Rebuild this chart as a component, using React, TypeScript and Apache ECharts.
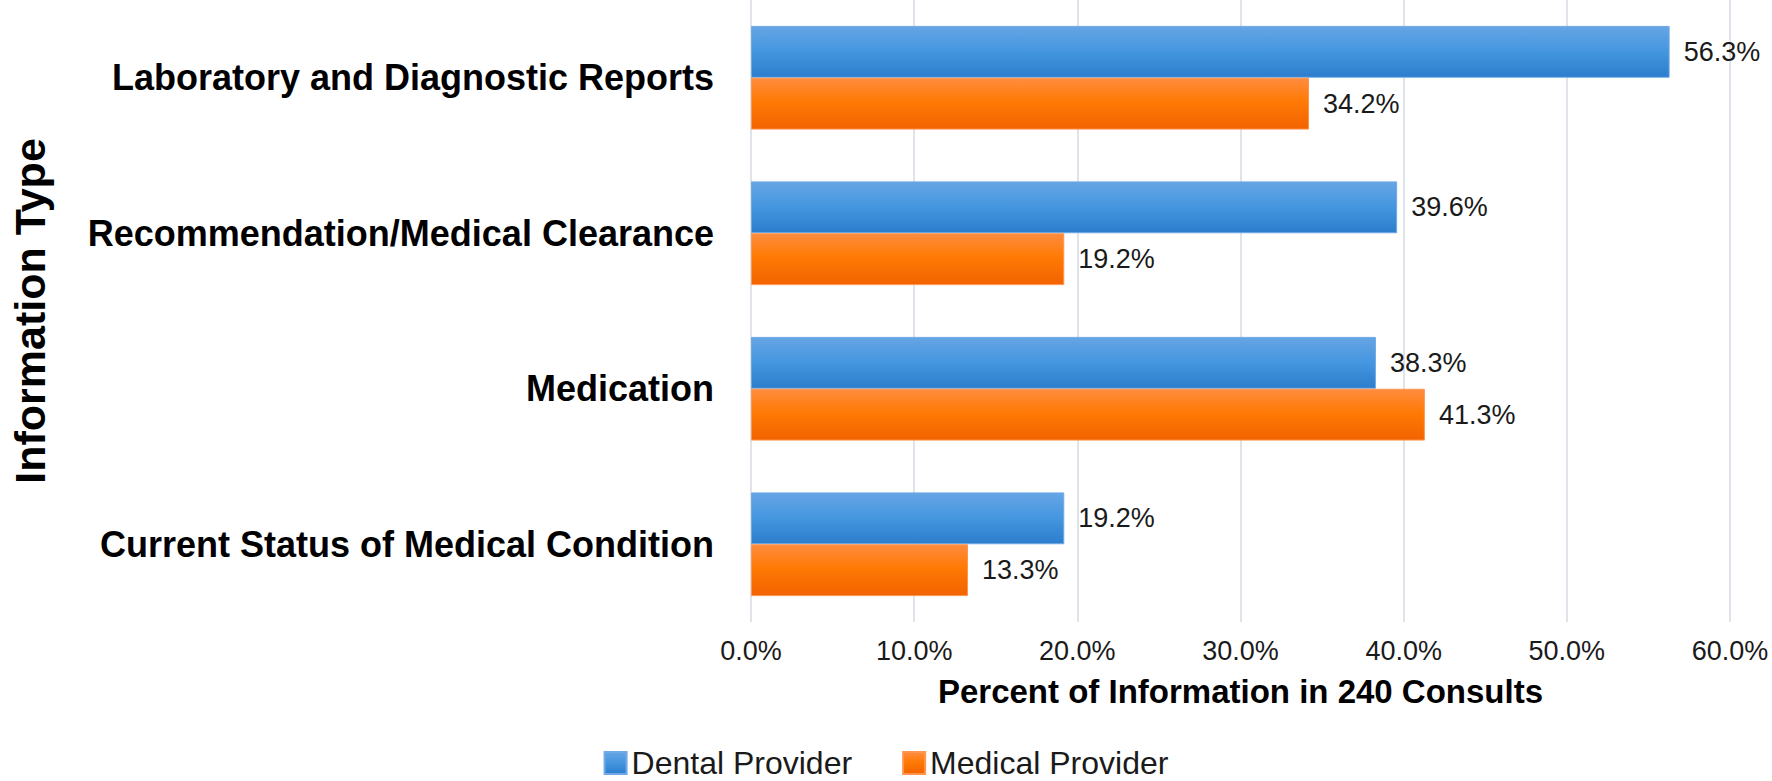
import React, { useEffect, useRef } from "react";
import * as echarts from "echarts";

const categories = [
  "Laboratory and Diagnostic Reports",
  "Recommendation/Medical Clearance",
  "Medication",
  "Current Status of Medical Condition",
];
const dentalProvider = [56.3, 39.6, 38.3, 19.2];
const medicalProvider = [34.2, 19.2, 41.3, 13.3];
const seriesNames = ["Dental Provider", "Medical Provider"];
const xTicks = { min: 0, max: 60, interval: 10 };

const FONT = "'Liberation Sans', Arial, Helvetica, sans-serif";

export default function App() {
  const ref = useRef<HTMLDivElement>(null);
  useEffect(() => {
    document.body.style.margin = "0";
    if (!ref.current) return;
    const chart = echarts.init(ref.current, null, { renderer: "svg" });
    const blue = new echarts.graphic.LinearGradient(0, 0, 0, 1, [
      { offset: 0, color: "#66a5e5" },
      { offset: 0.5, color: "#4496df" },
      { offset: 1, color: "#2c7dcc" },
    ]);
    const orange = new echarts.graphic.LinearGradient(0, 0, 0, 1, [
      { offset: 0, color: "#ff8c3f" },
      { offset: 0.45, color: "#ff7a05" },
      { offset: 1, color: "#f26300" },
    ]);
    const label = {
      show: true,
      position: "right",
      distance: 14,
      fontFamily: FONT,
      fontSize: 27,
      color: "#1a1a1a",
      formatter: (p: any) => Number(p.value).toFixed(1) + "%",
    };
    chart.setOption({
      animation: false,
      backgroundColor: "#ffffff",
      textStyle: { fontFamily: FONT },
      grid: { left: 736, right: 42, top: 0, bottom: 159, containLabel: false },
      legend: {
        data: seriesNames,
        left: "center",
        top: 742,
        icon: "rect",
        itemWidth: 22,
        itemHeight: 22,
        itemGap: 50,
        textStyle: { fontFamily: FONT, fontSize: 32, color: "#1a1a1a" },
      },
      xAxis: {
        type: "value",
        min: xTicks.min,
        max: xTicks.max,
        interval: xTicks.interval,
        axisLine: { show: false },
        axisTick: { show: false },
        splitLine: { show: true, lineStyle: { color: "#dfe3ea", width: 2 } },
        axisLabel: {
          margin: 15,
          fontFamily: FONT,
          fontSize: 27,
          color: "#1a1a1a",
          formatter: (v: number) => v.toFixed(1) + "%",
        },
        name: "Percent of Information in 240 Consults",
        nameLocation: "middle",
        nameGap: 53,
        nameTextStyle: { fontFamily: FONT, fontSize: 33, fontWeight: "bold", color: "#000" },
      },
      yAxis: {
        type: "category",
        data: categories,
        inverse: true,
        axisLine: { show: false },
        axisTick: { show: false },
        axisLabel: {
          margin: 37,
          fontFamily: FONT,
          fontSize: 36,
          fontWeight: "bold",
          color: "#000",
        },
        name: "Information Type",
        nameLocation: "middle",
        nameRotate: 90,
        nameGap: 700,
        nameTextStyle: { fontFamily: FONT, fontSize: 43, fontWeight: "bold", color: "#000" },
      },
      series: [
        {
          name: seriesNames[0],
          type: "bar",
          data: dentalProvider,
          barGap: "0%",
          barCategoryGap: "33.3%",
          itemStyle: { color: blue, borderColor: "#6fa9e6", borderWidth: 1 },
          label,
        },
        {
          name: seriesNames[1],
          type: "bar",
          data: medicalProvider,
          barGap: "0%",
          barCategoryGap: "33.3%",
          itemStyle: { color: orange, borderColor: "#ff9650", borderWidth: 1 },
          label,
        },
      ],
    });
    return () => chart.dispose();
  }, []);
  return <div ref={ref} style={{ width: 1772, height: 781 }} />;
}
